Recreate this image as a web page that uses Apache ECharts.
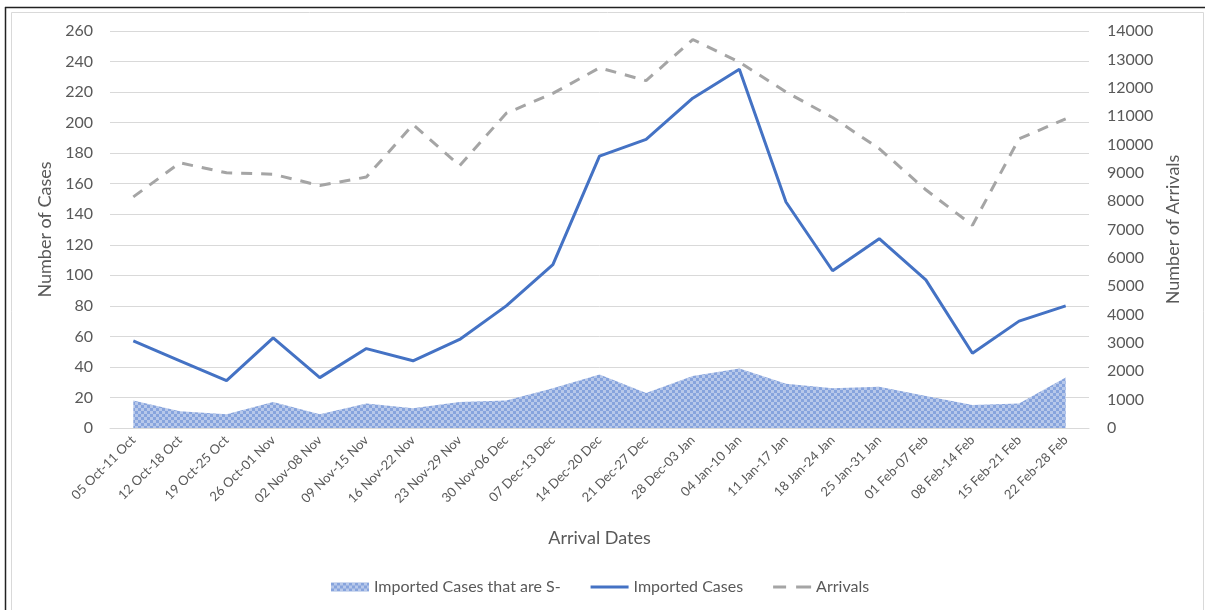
<!DOCTYPE html>
<html>
<head>
<meta charset="utf-8">
<script src="https://cdn.jsdelivr.net/npm/echarts@6/dist/echarts.min.js"></script>
<style>
html,body{margin:0;padding:0;background:#fff;}
#chart{width:1205px;height:610px;}
</style>
</head>
<body>
<div id="chart"></div>
<script>
const categories = ['05 Oct-11 Oct','12 Oct-18 Oct','19 Oct-25 Oct','26 Oct-01 Nov','02 Nov-08 Nov','09 Nov-15 Nov','16 Nov-22 Nov','23 Nov-29 Nov','30 Nov-06 Dec','07 Dec-13 Dec','14 Dec-20 Dec','21 Dec-27 Dec','28 Dec-03 Jan','04 Jan-10 Jan','11 Jan-17 Jan','18 Jan-24 Jan','25 Jan-31 Jan','01 Feb-07 Feb','08 Feb-14 Feb','15 Feb-21 Feb','22 Feb-28 Feb'];
const importedCasesS = [18, 11, 9, 17, 9, 16, 13, 17, 18, 26, 35, 23, 34, 39, 29, 26, 27, 21, 15, 16, 33];
const importedCases = [57, 44, 31, 59, 33, 52, 44, 58, 80, 107, 178, 189, 216, 235, 148, 103, 124, 97, 49, 70, 80];
const arrivals = [8150, 9350, 9000, 8950, 8550, 8850, 10700, 9250, 11100, 11800, 12700, 12250, 13700, 12900, 11850, 10950, 9850, 8400, 7150, 10200, 10900];
const leftTicks = {min: 0, max: 260, interval: 20};
const rightTicks = {min: 0, max: 14000, interval: 1000};

function makePattern() {
  const c = document.createElement('canvas');
  c.width = 6; c.height = 6;
  const ctx = c.getContext('2d');
  ctx.fillStyle = '#b7c8ea';
  ctx.fillRect(0, 0, 6, 6);
  ctx.fillStyle = '#87a4dd';
  ctx.fillRect(0, 0, 3, 3);
  ctx.fillRect(3, 3, 3, 3);
  return c;
}
const pattern = {image: makePattern(), repeat: 'repeat'};

const FONT = 'Lato';
const TXT = '#595959';
const chart = echarts.init(document.getElementById('chart'), null, {renderer: 'canvas'});
chart.setOption({
  animation: false,
  backgroundColor: '#fff',
  textStyle: {fontFamily: FONT},
  graphic: [
    {type: 'rect', shape: {x: 11.5, y: 12.5, width: 1192, height: 610}, style: {fill: 'none', stroke: '#d9d9d9', lineWidth: 1}, silent: true},
    {type: 'line', shape: {x1: 5.5, y1: 7, x2: 5.5, y2: 610}, style: {stroke: '#222', lineWidth: 1.5}, silent: true},
    {type: 'line', shape: {x1: 5, y1: 7.5, x2: 1205, y2: 7.5}, style: {stroke: '#222', lineWidth: 1.5}, silent: true}
  ],
  grid: {left: 110, right: 116, top: 31, bottom: 182, containLabel: false},
  legend: {
    left: 326, top: 574,
    itemGap: 30, itemWidth: 38, itemHeight: 9,
    textStyle: {fontFamily: FONT, fontSize: 16, color: TXT},
    data: [
      {name: 'Imported Cases that are S-', icon: 'rect', itemStyle: {color: pattern, borderWidth: 0}},
      {name: 'Imported Cases', icon: 'path://M0,0L38,0L38,3L0,3Z', itemStyle: {color: '#4472c4'}},
      {name: 'Arrivals', icon: 'path://M0,0L13,0L13,3L0,3Z M23,0L38,0L38,3L23,3Z', itemStyle: {color: '#a5a5a5'}}
    ]
  },
  xAxis: {
    type: 'category', data: categories, boundaryGap: true,
    name: 'Arrival Dates', nameLocation: 'middle', nameGap: 101,
    nameTextStyle: {fontFamily: FONT, fontSize: 18, color: TXT},
    axisLine: {lineStyle: {color: '#d9d9d9'}},
    axisTick: {show: false},
    axisLabel: {rotate: 45, interval: 0, fontFamily: FONT, fontSize: 13, color: TXT, margin: 10}
  },
  yAxis: [
    {
      type: 'value', min: leftTicks.min, max: leftTicks.max, interval: leftTicks.interval,
      name: 'Number of Cases', nameLocation: 'middle', nameGap: 55, nameRotate: 90,
      nameTextStyle: {fontFamily: FONT, fontSize: 18, color: TXT},
      axisLine: {show: false}, axisTick: {show: false},
      axisLabel: {fontFamily: FONT, fontSize: 16, color: TXT, margin: 17},
      splitLine: {lineStyle: {color: '#d9d9d9', width: 1}}
    },
    {
      type: 'value', min: rightTicks.min, max: rightTicks.max, interval: rightTicks.interval,
      name: 'Number of Arrivals', nameLocation: 'middle', nameGap: 70, nameRotate: 90,
      nameTextStyle: {fontFamily: FONT, fontSize: 18, color: TXT},
      axisLine: {show: false}, axisTick: {show: false},
      axisLabel: {fontFamily: FONT, fontSize: 16, color: TXT, margin: 18, formatter: function (v) { return String(v); }},
      splitLine: {show: false}
    }
  ],
  series: [
    {
      name: 'Imported Cases that are S-', type: 'line', yAxisIndex: 0,
      data: importedCasesS, symbol: 'none', showSymbol: false,
      lineStyle: {width: 0, color: pattern}, itemStyle: {color: pattern},
      areaStyle: {color: pattern, opacity: 1},
      z: 1
    },
    {
      name: 'Imported Cases', type: 'line', yAxisIndex: 0,
      data: importedCases, symbol: 'none', showSymbol: false,
      lineStyle: {width: 3, color: '#4472c4'}, itemStyle: {color: '#4472c4'},
      z: 3
    },
    {
      name: 'Arrivals', type: 'line', yAxisIndex: 1,
      data: arrivals, symbol: 'none', showSymbol: false,
      lineStyle: {width: 3, color: '#a5a5a5', type: [11, 9]}, itemStyle: {color: '#a5a5a5'},
      z: 2
    }
  ]
});
</script>
</body>
</html>
